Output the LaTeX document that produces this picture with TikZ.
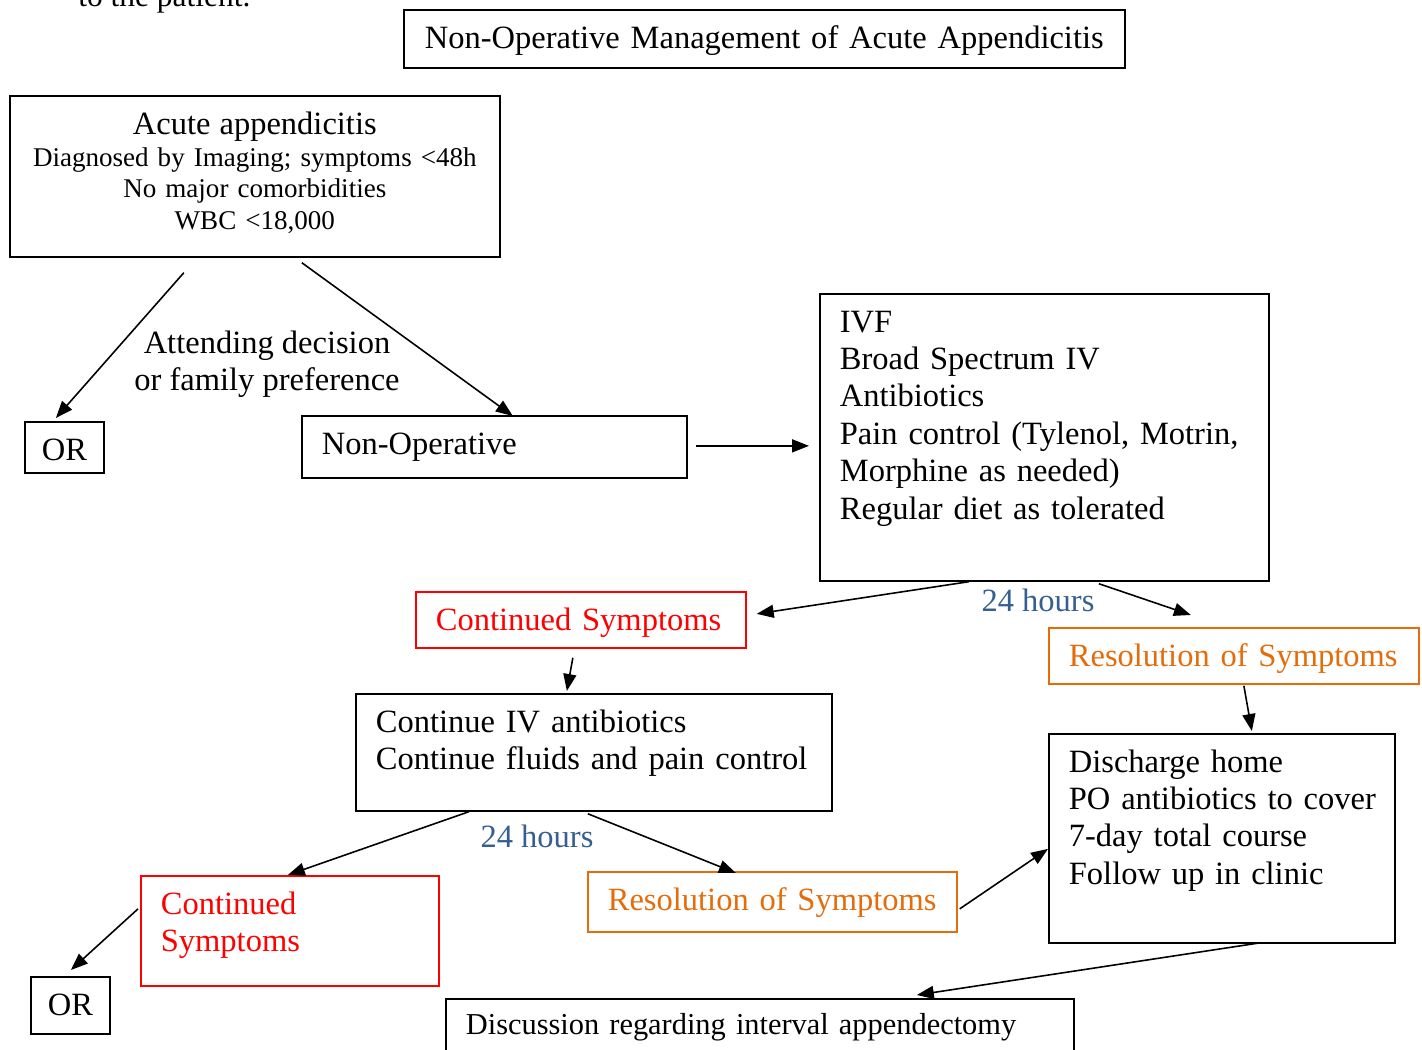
\documentclass[tikz,border=0pt]{standalone}
\usepackage{fontspec}
\setmainfont{Liberation Serif}
\usetikzlibrary{arrows.meta,calc}

\definecolor{symred}{RGB}{255,0,0}
\definecolor{symorange}{RGB}{228,108,10}
\definecolor{hourblue}{RGB}{54,95,145}

\tikzset{
  mainfont/.style={font=\fontsize{18.5}{21.3}\selectfont},
  wbox/.style={draw, line width=1pt, anchor=north west, inner xsep=0.4cm, inner ysep=0.24cm,
    text height=0.524cm, align=left, mainfont},
  redbox/.style={wbox, draw=symred, text=symred},
  orangebox/.style={wbox, draw=symorange, text=symorange},
  hours/.style={text=hourblue, mainfont, inner sep=0pt},
  arr/.style={-{Triangle[length=0.34cm,width=0.26cm]}, line width=0.9pt},
}

\begin{document}
\begin{tikzpicture}[x=0.02cm,y=-0.02cm]
  \useasboundingbox (0,0) rectangle (1422,1050);

  \node[anchor=base west, inner sep=0pt, font=\fontsize{17.9}{20}\selectfont] (prev) at (78,7) {to the patient.};

  \node[wbox, align=center, text width=13.62cm, text depth=0.156cm] (title) at (403,9) {Non-Operative Management of Acute Appendicitis};
  \node[wbox, align=center, text width=9cm, text height=0.54cm, text depth=2.2cm, font=\fontsize{15.4}{17.9}\selectfont] (acute) at (9,95)
    {{\fontsize{18.5}{21.3}\selectfont Acute appendicitis}\\Diagnosed by Imaging; symptoms <48h\\No major comorbidities\\WBC <18,000};

  \node[wbox, align=center, inner xsep=0.2cm, text width=1.18cm, text depth=0.016cm] (or1) at (24,421) {OR};
  \node[wbox, text width=6.9cm, text depth=0.236cm] (nonop) at (301,415) {Non-Operative};
  \node[wbox, text width=8.18cm, text depth=4.736cm] (ivf) at (819,293)
    {IVF\\Broad Spectrum IV\\Antibiotics\\Pain control (Tylenol, Motrin,\\Morphine as needed)\\Regular diet as tolerated};

  \node[redbox, text width=5.8cm, text depth=0.116cm] (cont1) at (415,591) {Continued Symptoms};
  \node[orangebox, text width=6.6cm, text depth=0.116cm] (res1) at (1048,627) {Resolution of~Symptoms};
  \node[wbox, text width=8.72cm, text depth=1.336cm] (contiv) at (355,693) {Continue IV antibiotics\\Continue fluids and pain~control};
  \node[wbox, text width=6.12cm, text depth=3.176cm] (disch) at (1048,733)
    {Discharge home\\\mbox{PO antibiotics to cover}\\7-day total course\\Follow up in clinic};

  \node[redbox, text width=5.16cm, text depth=1.196cm] (cont2) at (140,875) {Continued\\Symptoms};
  \node[orangebox, text width=6.58cm, text depth=0.196cm] (res2) at (587,871) {Resolution of~Symptoms};
  \node[wbox, align=center, inner xsep=0.2cm, text width=1.18cm, text depth=0.136cm] (or2) at (30,976) {OR};
  \node[wbox, text width=11.76cm, text height=0.48cm, text depth=0.34cm, font=\fontsize{17.3}{20}\selectfont] (disc) at (445,998)
    {Discussion regarding interval appendectomy};

  \node[align=center, inner sep=0pt, mainfont] (why) at (267,364) {Attending decision\\or family preference};
  \node[hours] (h1) at (1038,600) {24 hours};
  \node[hours] (h2) at (537,836) {24 hours};

  \draw[arr] ($(acute.south)+(-71,15)$) -- ($(or1.north)+(-8.5,-3)$);
  \draw[arr] ($(acute.south)+(47,5)$) -- ($(nonop.north)+(18.5,1)$);
  \draw[arr] ($(nonop.east)+(8,-1)$) -- ($(nonop.east -| ivf.west)+(-10,-1)$);
  \draw[arr] ($(ivf.south)+(-75.5,0)$) -- ($(cont1.east)+(10,-6)$);
  \draw[arr] ($(ivf.south)+(54.5,2)$) -- ($(res1.north)+(-43,-12)$);
  \draw[arr] ($(cont1.south)+(-8,9)$) -- ($(contiv.north)+(-27,-2)$);
  \draw[arr] ($(res1.south)+(10,1)$) -- ($(disch.north)+(30,-2)$);
  \draw[arr] ($(contiv.south)+(-125,0)$) -- ($(cont2.north)+(-2,0)$);
  \draw[arr] ($(contiv.south)+(-6,2)$) -- ($(res2.north)+(-36.5,2)$);
  \draw[arr] ($(cont2.west)+(-2,-22)$) -- ($(or2.north)+(0.5,-6)$);
  \draw[arr] ($(res2.east)+(2,7)$) -- ($(disch.west)+(0,10.5)$);
  \draw[arr] ($(disch.south)+(39,-1)$) -- ($(disc.north)+(157,-3)$);
\end{tikzpicture}
\end{document}
